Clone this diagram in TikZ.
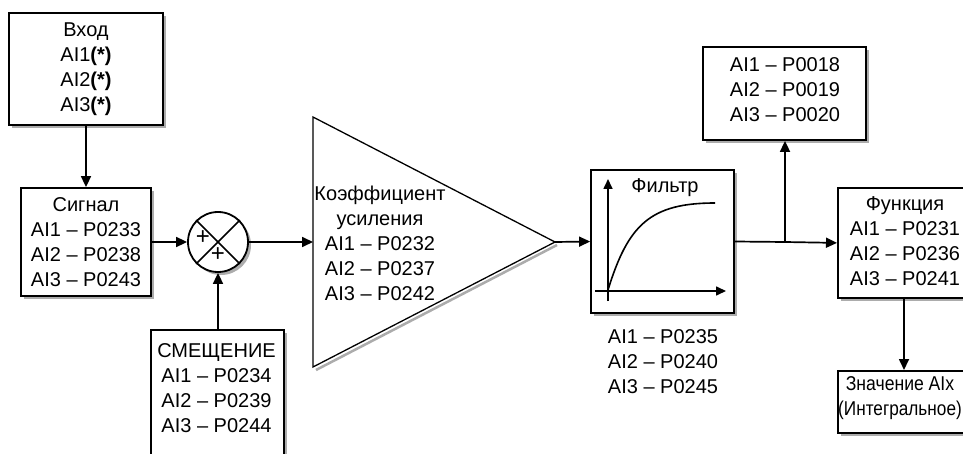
\documentclass[tikz,border=0pt]{standalone}
\usepackage{fontspec}
\setmainfont{Liberation Sans}
\usetikzlibrary{arrows.meta,shadows,calc}
\tikzset{
  shd/.style={drop shadow={shadow xshift=3pt,shadow yshift=-3pt,fill=gray!65,opacity=1}},
  box/.style={draw,line width=1.8pt,fill=white,shd,inner sep=0pt,align=center,
    font=\fontsize{20}{25}\selectfont},
  txt/.style={align=center,inner sep=0pt,font=\fontsize{20}{25}\selectfont},
  conn/.style={line width=1.7pt,-{Triangle[length=11pt,width=10pt]}},
  wire/.style={line width=1.7pt}
}
\begin{document}
\begin{tikzpicture}[x=1pt,y=-1pt]
\useasboundingbox (0,0) rectangle (963,454);
\clip (0,0) rectangle (963,454);
\fill[white] (0,0) rectangle (963,454);

% Input box
\node[box,minimum width=154pt,minimum height=112pt] (inp) at (86,69)
  {Вход\\AI1\textbf{(*)}\\AI2\textbf{(*)}\\AI3\textbf{(*)}};
% Signal box
\node[box,minimum width=130pt,minimum height=108pt] (sig) at (86,242)
  {Сигнал\\AI1 – P0233\\AI2 – P0238\\AI3 – P0243};
% Summing junction
\node[draw,circle,line width=1.8pt,fill=white,shd,minimum size=60pt,inner sep=0pt] (sum) at (218,242) {};
\draw[line width=1.6pt] (sum.north west) -- (sum.south east);
\draw[line width=1.6pt] (sum.north east) -- (sum.south west);
\node[txt,font=\fontsize{24}{24}\selectfont] (p1) at (203,238) {+};
\node[txt,font=\fontsize{24}{24}\selectfont] (p2) at (218,255) {+};
% Offset box
\node[box,minimum width=133pt,minimum height=140pt,anchor=north west] (smb) at (150,329) {};
\node[txt] (smbt) at (216.5,388.5) {СМЕЩЕНИЕ\\AI1 – P0234\\AI2 – P0239\\AI3 – P0244};

% Gain triangle
\coordinate (ampin) at (313,242);
\coordinate (apex) at (555,242);
\draw[gray!65,line width=2.5pt] ($(apex)+(2,3)$) -- (316,370);
\draw[line width=1.3pt,fill=white] (313,117) -- (apex) -- (313,367) -- cycle;
\node[txt] (gaint) at (380,243) {Коэффициент\\усиления\\AI1 – P0232\\AI2 – P0237\\AI3 – P0242};

% Filter box
\node[box,minimum width=143pt,minimum height=143pt] (flt) at (662.5,241.5) {};
\coordinate (ax0) at (608,301);
\coordinate (ax1) at (608,179);
\coordinate (ay0) at (595,291);
\coordinate (ay1) at (726,291);
\draw[line width=1.6pt,-{Triangle[length=10pt,width=9pt]}] (ax0) -- (ax1);
\draw[line width=1.6pt,-{Triangle[length=10pt,width=9pt]}] (ay0) -- (ay1);
\draw[line width=1.6pt] (608,290) .. controls (628,225) and (650,203) .. (715,203);
\node[txt] (fltt) at (665,188) {Фильтр};
\node[txt] (fltp) at (663,361.5) {AI1 – P0235\\AI2 – P0240\\AI3 – P0245};

% Display box
\node[box,minimum width=163pt,minimum height=93pt] (disp) at (784.5,93.5) {};
\node[txt] (dispt) at (785,90) {AI1 – P0018\\AI2 – P0019\\AI3 – P0020};

% Function box
\node[box,minimum width=160pt,minimum height=110pt,anchor=north west] (fn) at (837,187) {};
\node[txt] (fnt) at (905,241) {Функция\\AI1 – P0231\\AI2 – P0236\\AI3 – P0241};

% Value box
\node[box,minimum width=160pt,minimum height=62pt,anchor=north west] (val) at (837,370) {};
\node[txt] (valt) at (900,398.5) {\scalebox{0.88}[1]{Значение AIx}\\\scalebox{0.86}[1]{(Интегральное)}};

% Connectors
\coordinate (jn) at (785,242);
\draw[conn] (inp.south) -- (sig.north);
\draw[conn] (sig.east) -- (sum.west);
\draw[conn] (sum.east) -- (ampin);
\draw[conn] (smb.north -| sum) -- (sum.south);
\draw[conn] (apex) -- (flt.west);
\draw[wire] (flt.east) -- (jn);
\draw[conn] (jn) -- (fn.west);
\draw[conn] (jn) -- (jn |- disp.south);
\draw[conn] (fn.south -| 904,0) -- (val.north -| 904,0);
\end{tikzpicture}
\end{document}
